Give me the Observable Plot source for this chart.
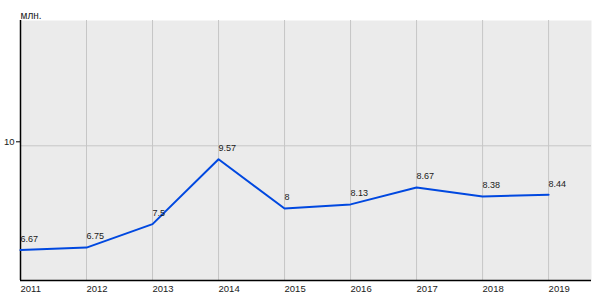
<!DOCTYPE html>
<html>
<head>
<meta charset="utf-8">
<script src="https://cdn.jsdelivr.net/npm/d3@7"></script>
<script src="https://cdn.jsdelivr.net/npm/@observablehq/plot@0.6"></script>
<style>
  html, body { margin: 0; padding: 0; background: #ffffff; }
  svg { display: block; }
</style>
</head>
<body>
<div id="chart"></div>
<script>
const years = [2011, 2012, 2013, 2014, 2015, 2016, 2017, 2018, 2019];
const values = [6.67, 6.75, 7.5, 9.57, 8, 8.13, 8.67, 8.38, 8.44];
const valueLabels = ["6.67", "6.75", "7.5", "9.57", "8", "8.13", "8.67", "8.38", "8.44"];
const yTicks = [10];
const unitLabel = "млн.";

const data = years.map((year, i) => ({year, value: values[i], label: valueLabels[i]}));

const chart = Plot.plot({
  width: 600,
  height: 300,
  marginLeft: 20,
  marginRight: 9,
  marginTop: 20,
  marginBottom: 20,
  style: {fontFamily: "'Liberation Sans', Arial, sans-serif", background: "#ffffff"},
  x: {type: "linear", domain: [2011, 2019.65]},
  y: {domain: [5.7, 14]},
  marks: [
    Plot.frame({fill: "#ebebeb", stroke: null}),
    Plot.gridX(years, {stroke: "#c6c6c6", strokeOpacity: 1, strokeWidth: 1}),
    Plot.gridY(yTicks, {stroke: "#c6c6c6", strokeOpacity: 1, strokeWidth: 1}),
    Plot.axisX(years, {tickSize: 0, tickPadding: 5, textAnchor: "start", tickFormat: d => String(d), fontSize: 9.5, fill: "#1a1a1a", label: null}),
    Plot.axisY(yTicks, {tickSize: 4, tickPadding: 2, tickFormat: d => String(d), fontSize: 9.5, dy: -4, fill: "#1a1a1a", label: null}),
    Plot.ruleX([2011], {stroke: "#000", strokeWidth: 1.5}),
    Plot.ruleY([5.7], {stroke: "#000", strokeWidth: 1.5}),
    Plot.text([unitLabel], {frameAnchor: "top-left", textAnchor: "start", dy: -9, fontSize: 10, fill: "#1a1a1a"}),
    Plot.line(data, {x: "year", y: "value", stroke: "#0048e0", strokeWidth: 2}),
    Plot.text(data, {x: "year", y: "value", text: "label", textAnchor: "start", dy: -11, fontSize: 9, fill: "#1a1a1a"})
  ]
});
document.getElementById("chart").appendChild(chart);
</script>
</body>
</html>
